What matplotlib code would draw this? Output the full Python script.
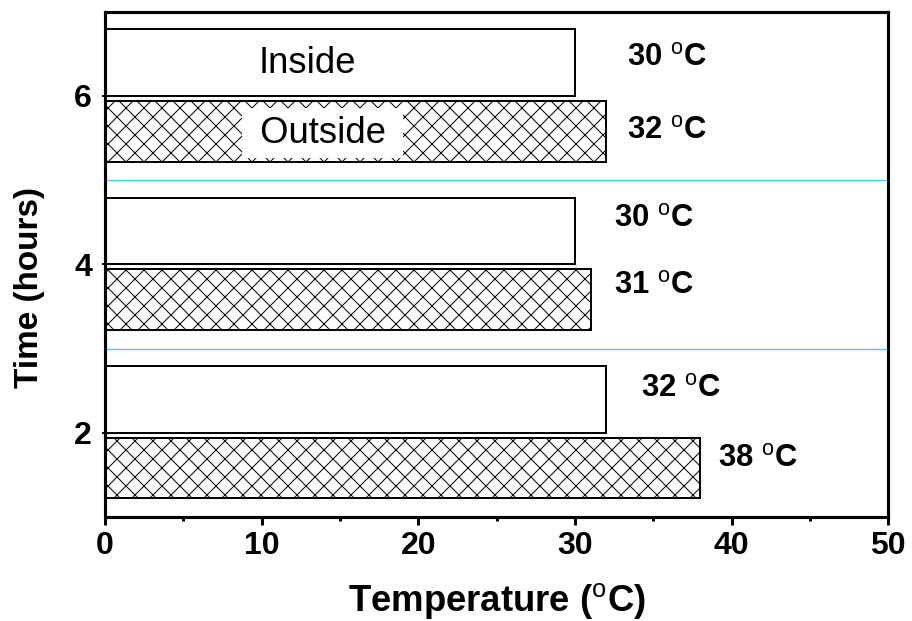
import matplotlib
matplotlib.use("Agg")
import matplotlib.pyplot as plt
from matplotlib.ticker import MultipleLocator

DPI = 54


def px(n):
    # pixel size -> points at the chosen dpi
    return n * 72.0 / DPI


plt.rcParams['font.family'] = ['Liberation Sans', 'DejaVu Sans']
plt.rcParams['mathtext.fontset'] = 'custom'
plt.rcParams['mathtext.rm'] = 'Liberation Sans'
plt.rcParams['hatch.linewidth'] = px(1.0)

# data
hours = [2, 4, 6]
inside_temp = [32, 30, 30]
outside_temp = [38, 31, 32]

# where the value labels sit (x in degC, y in hours)
inside_lbl_x = [34.2, 32.5, 33.3]
inside_lbl_y = [2.52, 4.54, 6.45]
outside_lbl_x = [39.1, 32.5, 33.3]
outside_lbl_y = [1.69, 3.75, 5.58]

fig = plt.figure(figsize=(912 / DPI, 621 / DPI), dpi=DPI)
ax = fig.add_axes([0.115, 0.1675, 0.859, 0.8135])

# separators between the time groups
for y in [3, 5]:
    ax.axhline(y, color='#30e0e0', lw=px(1.35), zorder=1)

ax.barh(hours, inside_temp, height=0.79, align='edge', color='white',
        edgecolor='black', linewidth=px(2), zorder=2)
ax.barh([h - 0.78 for h in hours], outside_temp, height=0.72, align='edge',
        color='white', edgecolor='black', hatch='x', linewidth=px(2), zorder=2)

for x, y, v in zip(inside_lbl_x, inside_lbl_y, inside_temp):
    ax.text(x, y, f"{v} $^{{\\mathrm{{o}}}}$C", fontsize=px(31), fontweight='bold',
            ha='left', va='center')
for x, y, v in zip(outside_lbl_x, outside_lbl_y, outside_temp):
    ax.text(x, y, f"{v} $^{{\\mathrm{{o}}}}$C", fontsize=px(31), fontweight='bold',
            ha='left', va='center')

ax.text(12.9, 6.39, "Inside", fontsize=px(36.5), ha='center', va='center', zorder=3)
ax.text(13.9, 5.56, " Outside ", fontsize=px(36.5), ha='center', va='center',
        zorder=3,
        bbox=dict(facecolor='white', edgecolor='none', boxstyle='square,pad=0.2'))

ax.set_xlim(0, 50)
ax.set_ylim(1, 7)
ax.set_xticks([0, 10, 20, 30, 40, 50])
ax.xaxis.set_minor_locator(MultipleLocator(5))
ax.set_yticks(hours)

for s in ax.spines.values():
    s.set_linewidth(px(3.1))

ax.tick_params(axis='x', which='major', direction='out', length=px(8), width=px(3),
               pad=px(6), labelsize=px(32))
ax.tick_params(axis='x', which='minor', direction='out', length=px(4), width=px(3))
ax.tick_params(axis='y', which='major', direction='out', length=px(3), width=px(2),
               pad=px(10), labelsize=px(32))
for lbl in ax.get_xticklabels() + ax.get_yticklabels():
    lbl.set_fontweight('bold')

ax.set_xlabel("Temperature ($^{\\mathrm{o}}$C)", fontsize=px(36.5), fontweight='bold',
              labelpad=px(20))
ax.set_ylabel("Time (hours)", fontsize=px(33.3), fontweight='bold')
ax.yaxis.set_label_coords(-0.077, 0.455)

fig.savefig("out.png", dpi=DPI)
